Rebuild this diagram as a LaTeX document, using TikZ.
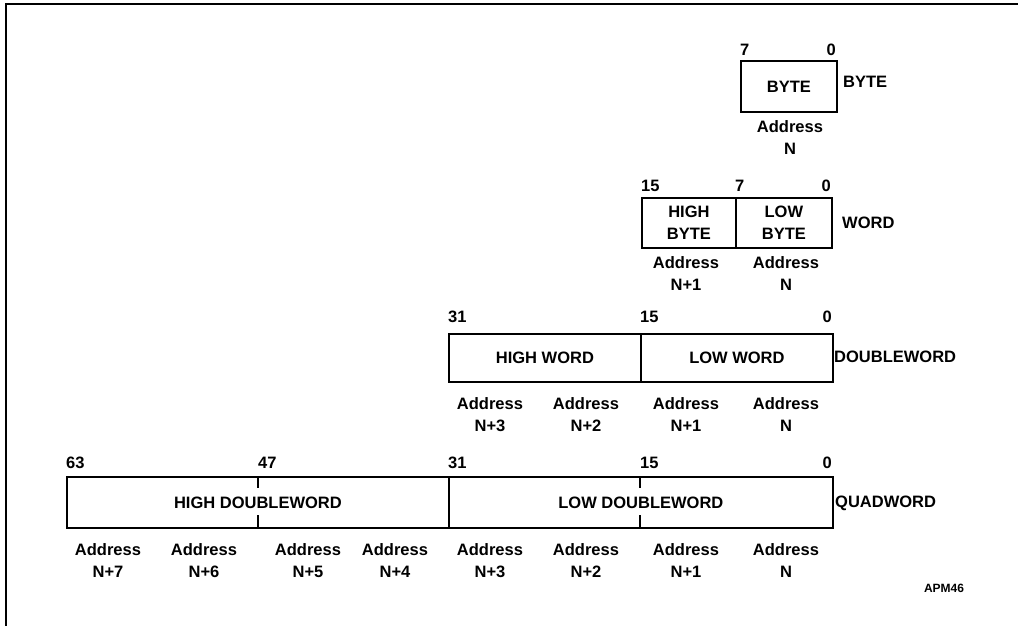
\documentclass[tikz,border=0pt]{standalone}
\usepackage{fontspec}
\setmainfont{Liberation Sans}
\begin{document}
\begin{tikzpicture}[x=1pt,y=-1pt,
  lbl/.style={font=\bfseries\fontsize{16.5}{22}\selectfont, inner sep=0pt},
  cell/.style={lbl, draw, line width=1.8pt, anchor=north west, minimum height=#1},
  addr/.style={lbl, align=center},
  bitl/.style={lbl, anchor=base west},
  bitr/.style={lbl, anchor=base east},
  side/.style={lbl, anchor=west},
  tick/.style={line width=1.8pt}]
\useasboundingbox (0,0) rectangle (1018,626);
% frame (top and left edges)
\coordinate (ftr) at (1018,4);
\coordinate (ftl) at (6,4);
\coordinate (fbl) at (6,626);
\draw[line width=1.8pt] (ftr) -- (ftl) -- (fbl);

% BYTE
\node[cell=51pt, minimum width=96pt] (byte) at (740,60) {BYTE};
\node[bitl] (b7) at (740,56) {7};
\node[bitr] (b0) at (836,56) {0};
\node[side] (byteL) at (843,82) {BYTE};
\node[addr] (ba) at (790,138) {Address\\N};

% WORD
\node[cell=50pt, minimum width=94pt, align=center] (hb) at (641,197) {HIGH\\BYTE};
\node[cell=50pt, minimum width=96pt, align=center] (lb) at (735,197) {LOW\\BYTE};
\node[bitl] (w15) at (641,191) {15};
\node[bitl] (w7) at (735,191) {7};
\node[bitr] (w0) at (831,191) {0};
\node[side] (wordL) at (842,223) {WORD};
\node[addr] (wa1) at (686,274) {Address\\N+1};
\node[addr] (wa0) at (786,274) {Address\\N};

% DOUBLEWORD
\node[cell=48pt, minimum width=192pt] (hw) at (448,333) {HIGH WORD};
\node[cell=48pt, minimum width=192pt] (lw) at (640,333) {LOW WORD};
\node[bitl] (d31) at (448,322) {31};
\node[bitl] (d15) at (640,322) {15};
\node[bitr] (d0) at (832,322) {0};
\node[side] (dwL) at (834,357) {DOUBLEWORD};
\node[addr] (da3) at (490,415) {Address\\N+3};
\node[addr] (da2) at (586,415) {Address\\N+2};
\node[addr] (da1) at (686,415) {Address\\N+1};
\node[addr] (da0) at (786,415) {Address\\N};

% QUADWORD
\node[cell=51pt, minimum width=382pt] (hdw) at (66,476) {HIGH DOUBLEWORD};
\node[cell=51pt, minimum width=384pt] (ldw) at (448,476) {LOW DOUBLEWORD};
\coordinate (t47a) at (258,476);
\coordinate (t47b) at (258,488);
\coordinate (t47c) at (258,515);
\coordinate (t47d) at (258,527);
\coordinate (t15a) at (640,476);
\coordinate (t15b) at (640,488);
\coordinate (t15c) at (640,515);
\coordinate (t15d) at (640,527);
\draw[tick] (t47a) -- (t47b);
\draw[tick] (t47c) -- (t47d);
\draw[tick] (t15a) -- (t15b);
\draw[tick] (t15c) -- (t15d);
\node[bitl] (q63) at (66,468) {63};
\node[bitl] (q47) at (258,468) {47};
\node[bitl] (q31) at (448,468) {31};
\node[bitl] (q15) at (640,468) {15};
\node[bitr] (q0) at (832,468) {0};
\node[side] (qwL) at (835,503) {QUADWORD};
\node[addr] (qa7) at (108,561) {Address\\N+7};
\node[addr] (qa6) at (204,561) {Address\\N+6};
\node[addr] (qa5) at (308,561) {Address\\N+5};
\node[addr] (qa4) at (395,561) {Address\\N+4};
\node[addr] (qa3) at (490,561) {Address\\N+3};
\node[addr] (qa2) at (586,561) {Address\\N+2};
\node[addr] (qa1) at (686,561) {Address\\N+1};
\node[addr] (qa0) at (786,561) {Address\\N};

\node[lbl, font=\bfseries\fontsize{12}{14}\selectfont] (apm) at (944,588) {APM46};
\end{tikzpicture}
\end{document}
